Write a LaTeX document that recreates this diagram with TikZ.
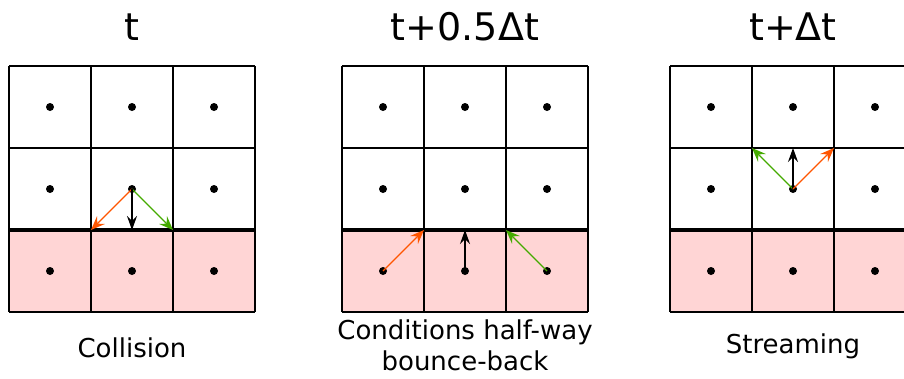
\documentclass[tikz,border=0pt]{standalone}
\usepackage{fontspec}
\setmainfont{DejaVu Sans}
\usetikzlibrary{arrows.meta}
\definecolor{pinkfill}{HTML}{FFD5D5}
\definecolor{arrorange}{HTML}{FF5500}
\definecolor{arrgreen}{HTML}{44AA00}
\tikzset{
  cellline/.style={draw=black, line width=1.3pt},
  wall/.style={draw=black, line width=3.2pt},
  dot/.style={circle, fill=black, inner sep=0pt, minimum size=8pt},
  vec/.style={line width=1.2pt, -{Stealth[length=14pt,width=11pt,inset=5pt]}},
  vecblack/.style={line width=1.5pt, -{Stealth[length=14pt,width=10pt,inset=5pt]}},
  titletext/.style={font=\fontsize{38}{44}\selectfont, anchor=base},
  captext/.style={font=\fontsize{26}{31}\selectfont, align=center, anchor=base},
}
\begin{document}
\begin{tikzpicture}[x=1pt,y=-1pt]
\useasboundingbox (0,0) rectangle (904,378);
\clip (0,0) rectangle (904,378);
\foreach \g/\xo in {a/9, b/342, c/670} {
  \fill[pinkfill] (\xo,230) rectangle ++(246,82);
  \foreach \k in {0,1,2,3} {
    \draw[cellline] (\xo+82*\k,66) -- (\xo+82*\k,312);
    \draw[cellline] (\xo,66+82*\k) -- (\xo+246,66+82*\k);
  }
  \draw[wall] (\xo,230) -- (\xo+246,230);
  \foreach \i in {0,1,2} {
    \foreach \j in {0,1,2} {
      \node[dot] (\g-\i-\j) at (\xo+41+82*\i,107+82*\j) {};
    }
  }
}
% corner coordinates
\coordinate (aL) at (91,230);
\coordinate (aM) at (132,230);
\coordinate (aR) at (173,230);
\coordinate (bL) at (424,230);
\coordinate (bM) at (465,230);
\coordinate (bR) at (506,230);
\coordinate (cL) at (752,148);
\coordinate (cM) at (793,148);
\coordinate (cR) at (834,148);
% collision
\draw[vec, arrorange] (a-1-1.center) -- (aL);
\draw[vec, arrgreen] (a-1-1.center) -- (aR);
\draw[vecblack, black] (a-1-1.center) -- (aM);
% half-way bounce-back
\draw[vec, arrorange] (b-0-2.center) -- (bL);
\draw[vecblack, black] (b-1-2.center) -- (bM);
\draw[vec, arrgreen] (b-2-2.center) -- (bR);
% streaming
\draw[vec, arrgreen] (c-1-1.center) -- (cL);
\draw[vecblack, black] (c-1-1.center) -- (cM);
\draw[vec, arrorange] (c-1-1.center) -- (cR);
% titles
\node[titletext] (ta) at (132,40) {t};
\node[titletext] (tb) at (465,40) {t+0.5Δt};
\node[titletext] (tc) at (793,40) {t+Δt};
% captions
\node[captext] (ca) at (132,357) {Collision};
\node[captext] (cb) at (465,370) {Conditions half-way\\bounce-back};
\node[captext] (cc) at (793,353) {Streaming};
\end{tikzpicture}
\end{document}
